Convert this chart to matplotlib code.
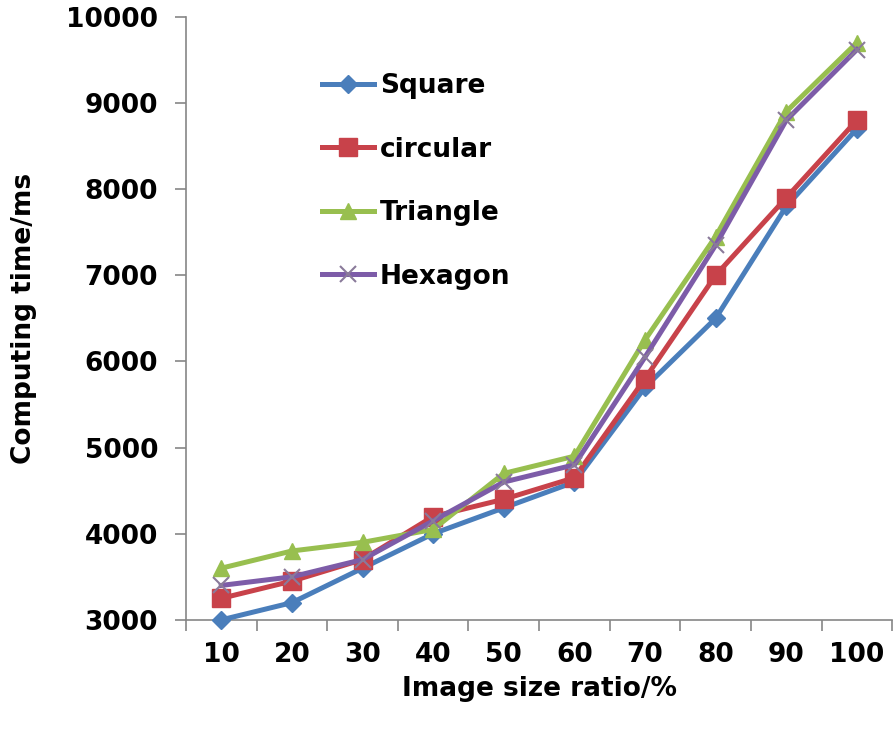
import matplotlib.pyplot as plt
import numpy as np

categories = ['10', '20', '30', '40', '50', '60', '70', '80', '90', '100']
square = [3000, 3200, 3600, 4000, 4300, 4600, 5700, 6500, 7800, 8700]
circular = [3250, 3450, 3700, 4200, 4400, 4650, 5800, 7000, 7900, 8800]
triangle = [3600, 3800, 3900, 4050, 4700, 4900, 6250, 7450, 8900, 9700]
hexagon = [3400, 3500, 3700, 4150, 4600, 4800, 6050, 7350, 8800, 9620]

plt.rcParams['font.family'] = ['DejaVu Sans']
plt.rcParams['font.weight'] = 'bold'
fs = 19

fig = plt.figure(figsize=(8.94, 7.31), dpi=100)
ax = fig.add_axes([0.208, 0.152, 0.79, 0.825])
x = np.arange(1, len(categories) + 1)

lw = 3.6
ax.plot(x, square, color='#4a7ebb', lw=lw, marker='D', ms=9, label='Square', clip_on=False, zorder=3)
ax.plot(x, circular, color='#c8424a', lw=lw, marker='s', ms=13, label='circular', clip_on=False, zorder=4)
ax.plot(x, triangle, color='#98bf4f', lw=lw, marker='^', ms=12, label='Triangle', clip_on=False, zorder=5)
ax.plot(x, hexagon, color='#7d5ca8', lw=lw, marker='x', ms=12, mew=1.5, mec='#8a7a9a',
        label='Hexagon', clip_on=False, zorder=6)

ax.set_xlim(0.5, len(categories) + 0.5)
ax.set_ylim(3000, 10000)
ax.set_yticks(np.arange(3000, 10001, 1000))
ax.set_xticks(x)
ax.set_xticklabels(categories)
ax.set_xticks(np.arange(0.5, len(categories) + 1, 1), minor=True)
ax.tick_params(axis='x', which='major', length=0, pad=16, labelsize=fs)
ax.tick_params(axis='x', which='minor', length=8, width=1.2, color='#868686', direction='out')
ax.tick_params(axis='y', length=8, width=1.2, color='#868686', direction='out', pad=12, labelsize=fs)

for s in ['top', 'right']:
    ax.spines[s].set_visible(False)
for s in ['left', 'bottom']:
    ax.spines[s].set_color('#868686')
    ax.spines[s].set_linewidth(1.2)

ax.set_xlabel('Image size ratio/%', fontsize=fs, fontweight='bold', labelpad=6)
ax.set_ylabel('Computing time/ms', fontsize=fs, fontweight='bold', labelpad=21)

ax.legend(loc='upper left', bbox_to_anchor=(0.345, 0.918), bbox_transform=fig.transFigure,
          frameon=False, fontsize=fs, handlelength=2.0, labelspacing=1.42,
          handletextpad=0.2, borderpad=0)

fig.savefig('out.png', dpi=100)
